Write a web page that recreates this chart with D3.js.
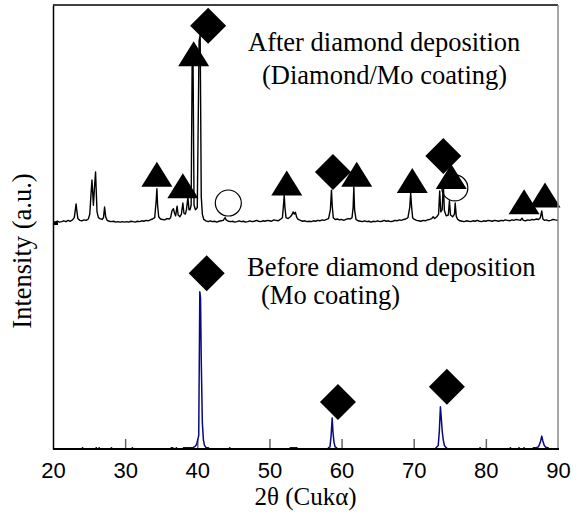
<!DOCTYPE html>
<html>
<head>
<meta charset="utf-8">
<script src="https://cdn.jsdelivr.net/npm/d3@7"></script>
<style>
  body { margin: 0; background: #fff; }
  .serif { font-family: "Times New Roman", "Liberation Serif", serif; }
  .sans { font-family: Arial, "Liberation Sans", sans-serif; }
</style>
</head>
<body>
<div id="chart"></div>
<script>
const width = 586;
const height = 523;

// plot box in pixels
const plotLeft = 53, plotRight = 558, plotTop = 5, plotBottom = 449;

const xTicks = [20, 30, 40, 50, 60, 70, 80, 90];

// top pattern sits on an offset (arbitrary units)
const topOffset = 509;

// after diamond deposition: [2theta, counts above its own baseline]
const afterTrace = [
  [20.0, 3], [20.3, 2], [20.6, 4], [20.9, 2], [21.2, 3], [21.5, 5], [21.8, 3], [22.1, 6], [22.4, 4], [22.7, 7],
  [22.95, 12], [23.1, 30], [23.2, 43], [23.3, 28], [23.45, 10], [23.7, 6], [24.0, 5], [24.3, 7], [24.6, 6], [24.9, 9],
  [25.1, 20], [25.25, 60], [25.4, 97], [25.5, 70], [25.6, 40], [25.75, 80], [25.9, 115], [26.0, 70], [26.1, 25], [26.3, 12],
  [26.5, 10], [26.8, 8], [27.0, 12], [27.15, 36], [27.3, 14], [27.5, 6], [27.8, 4], [28.1, 3], [28.4, 4], [28.7, 2],
  [29.0, 3], [29.3, 2], [29.6, 3], [29.9, 2], [30.2, 3], [30.5, 2], [30.8, 4], [31.1, 3], [31.4, 2], [31.7, 4],
  [32.0, 3], [32.3, 5], [32.6, 4], [32.9, 6], [33.2, 5], [33.5, 7], [33.8, 9], [34.1, 12], [34.3, 50], [34.4, 77],
  [34.5, 40], [34.65, 14], [34.9, 9], [35.2, 8], [35.5, 7], [35.8, 10], [36.1, 9], [36.3, 12], [36.5, 28], [36.7, 32],
  [36.85, 22], [37.0, 16], [37.2, 38], [37.35, 18], [37.6, 14], [37.8, 20], [38.0, 45], [38.15, 22], [38.35, 20], [38.5, 30],
  [38.7, 58], [38.85, 30], [39.0, 30], [39.15, 40], [39.3, 388], [39.4, 392], [39.55, 40], [39.75, 30], [40.0, 35], [40.25, 410],
  [40.4, 423], [40.55, 60], [40.7, 20], [40.9, 8], [41.2, 5], [41.5, 3], [41.8, 5], [42.1, 3], [42.4, 4], [42.7, 2],
  [43.0, 4], [43.3, 5], [43.6, 6], [43.85, 12], [44.0, 7], [44.3, 4], [44.6, 3], [44.9, 4], [45.2, 2], [45.5, 3],
  [45.8, 5], [46.1, 3], [46.4, 4], [46.7, 2], [47.0, 3], [47.3, 5], [47.6, 3], [47.9, 4], [48.2, 6], [48.5, 4],
  [48.8, 3], [49.1, 5], [49.4, 4], [49.7, 6], [50.0, 5], [50.3, 4], [50.6, 7], [50.9, 6], [51.2, 5], [51.5, 8],
  [51.8, 12], [51.95, 40], [52.05, 63], [52.15, 35], [52.3, 12], [52.6, 10], [52.9, 14], [53.1, 18], [53.3, 25], [53.45, 20],
  [53.6, 24], [53.8, 12], [54.0, 8], [54.3, 6], [54.6, 4], [54.9, 5], [55.2, 3], [55.5, 4], [55.8, 3], [56.1, 5],
  [56.4, 4], [56.7, 6], [57.0, 5], [57.3, 7], [57.6, 6], [57.9, 8], [58.2, 10], [58.45, 30], [58.6, 74], [58.7, 40],
  [58.85, 12], [59.1, 8], [59.4, 9], [59.7, 7], [60.0, 8], [60.3, 6], [60.6, 8], [60.9, 10], [61.2, 9], [61.45, 12],
  [61.6, 35], [61.7, 81], [61.8, 30], [62.0, 8], [62.3, 5], [62.6, 4], [62.9, 3], [63.2, 5], [63.5, 3], [63.8, 4],
  [64.1, 2], [64.4, 4], [64.7, 3], [65.0, 5], [65.3, 3], [65.6, 4], [65.9, 6], [66.2, 4], [66.5, 5], [66.8, 3],
  [67.1, 4], [67.4, 6], [67.7, 5], [68.0, 7], [68.3, 6], [68.6, 8], [68.9, 9], [69.2, 12], [69.45, 35], [69.58, 68],
  [69.7, 38], [69.85, 12], [70.1, 8], [70.4, 6], [70.7, 5], [71.0, 4], [71.3, 6], [71.6, 5], [71.9, 7], [72.2, 8],
  [72.5, 10], [72.7, 14], [72.9, 10], [73.2, 14], [73.45, 20], [73.6, 72], [73.75, 25], [73.95, 30], [74.1, 90], [74.25, 28],
  [74.5, 16], [74.8, 18], [74.95, 50], [75.1, 18], [75.4, 14], [75.65, 20], [75.75, 45], [75.9, 15], [76.1, 8], [76.4, 5],
  [76.7, 4], [77.0, 3], [77.3, 5], [77.6, 4], [77.9, 3], [78.2, 5], [78.5, 4], [78.8, 6], [79.1, 4], [79.4, 3],
  [79.7, 5], [80.0, 4], [80.3, 6], [80.6, 5], [80.9, 4], [81.2, 6], [81.5, 5], [81.8, 4], [82.1, 6], [82.4, 5],
  [82.7, 7], [83.0, 6], [83.3, 5], [83.6, 7], [83.9, 6], [84.2, 8], [84.5, 7], [84.8, 6], [85.0, 11], [85.2, 6],
  [85.5, 5], [85.8, 7], [86.1, 6], [86.4, 8], [86.7, 7], [87.0, 9], [87.3, 8], [87.55, 12], [87.75, 27], [87.9, 9],
  [88.1, 6], [88.4, 7], [88.7, 5], [89.0, 6], [89.3, 8], [89.6, 7], [90.0, 6]
];

// before diamond deposition: [2theta, counts]
const beforeTrace = [
  [20.0, 0], [24.0, 0], [24.1, 3], [24.2, 0], [25.9, 0], [26.0, 3], [26.1, 0], [26.3, 0], [26.4, 3], [26.5, 0],
  [28.0, 0], [28.1, 3], [28.2, 0], [30.9, 0], [31.0, 3], [31.1, 0], [36.3, 0], [36.4, 3], [36.6, 3], [36.7, 0],
  [37.0, 0], [37.1, 3], [37.2, 0], [38.0, 0], [38.1, 3], [39.4, 3], [39.7, 6], [39.9, 10], [40.2, 30], [40.35, 354],
  [40.45, 340], [40.55, 200], [40.7, 60], [40.85, 20], [41.0, 8], [41.2, 3], [41.5, 3], [41.7, 0], [44.4, 0], [44.5, 3],
  [44.6, 0], [52.8, 0], [52.9, 3], [53.8, 3], [53.9, 0], [58.1, 0], [58.2, 3], [58.4, 5], [58.55, 30], [58.7, 70],
  [58.8, 40], [58.95, 15], [59.1, 5], [59.3, 3], [59.4, 0], [73.0, 0], [73.1, 3], [73.4, 8], [73.55, 40], [73.7, 95],
  [73.8, 75], [73.95, 40], [74.1, 20], [74.25, 8], [74.5, 3], [74.7, 0], [79.1, 0], [79.2, 3], [79.3, 0], [83.3, 0],
  [83.4, 3], [83.5, 0], [84.5, 0], [84.6, 3], [84.7, 0], [85.2, 0], [85.3, 3], [85.4, 0], [86.5, 0], [86.6, 3],
  [87.0, 3], [87.3, 5], [87.55, 15], [87.75, 29], [87.9, 18], [88.1, 8], [88.3, 4], [88.6, 3], [88.8, 0], [90.0, 0]
];

// peak markers: [2theta, height above the pattern baseline]
const afterTriangles = [[34.4, 110], [38.0, 84], [39.5, 381], [52.4, 90], [62.1, 110], [69.8, 96], [75.2, 105], [85.3, 48], [88.2, 63]];
const afterDiamonds = [[41.5, 444], [58.8, 115], [74.1, 151]];
const afterCircles = [[44.3, 45], [75.7, 79]];
const beforeDiamonds = [[41.3, 396], [59.5, 106], [74.6, 140]];

const svg = d3.select("#chart").append("svg")
  .attr("width", width)
  .attr("height", height)
  .style("display", "block")
  .style("background-color", "white");

const x = d3.scaleLinear().domain([20, 90]).range([plotLeft, plotRight]);
const y = d3.scaleLinear().domain([0, 1000]).range([plotBottom, plotTop]);

// bottom ticks first (grey, pointing in)
const xAxis = d3.axisBottom(x)
  .tickValues(xTicks)
  .tickSizeInner(-10)
  .tickSizeOuter(0)
  .tickPadding(13)
  .tickFormat(d3.format("d"));

const gx = svg.append("g")
  .attr("transform", `translate(0, ${plotBottom})`)
  .call(xAxis);
gx.select(".domain").remove();
gx.selectAll(".tick line").attr("stroke", "#666").attr("stroke-width", 1.5);
gx.selectAll(".tick:first-of-type line, .tick:last-of-type line").remove();
gx.selectAll(".tick text")
  .attr("class", "sans")
  .attr("font-size", 22)
  .attr("fill", "#000");

// traces
const line = d3.line().x(d => x(d[0])).y(d => y(d[1]));

svg.append("path")
  .datum(afterTrace.map(d => [d[0], d[1] + topOffset]))
  .attr("d", line)
  .attr("fill", "none")
  .attr("stroke", "#000")
  .attr("stroke-width", 1.4)
  .attr("stroke-linejoin", "round");

svg.append("path")
  .datum(beforeTrace)
  .attr("d", line)
  .attr("fill", "none")
  .attr("stroke", "#0a0a80")
  .attr("stroke-width", 1.5)
  .attr("stroke-linejoin", "round");

// markers
const triangle = "M0,-12.5L15.5,12.5L-15.5,12.5Z";
const diamond = "M0,-18L18,0L0,18L-18,0Z";

const marks = svg.append("g");
marks.selectAll("path.tri")
  .data(afterTriangles)
  .enter().append("path")
  .attr("class", "tri")
  .attr("d", triangle)
  .attr("transform", d => `translate(${x(d[0])}, ${y(d[1] + topOffset)})`)
  .attr("fill", "#000");

marks.selectAll("path.dia")
  .data(afterDiamonds.map(d => [d[0], d[1] + topOffset]).concat(beforeDiamonds))
  .enter().append("path")
  .attr("class", "dia")
  .attr("d", diamond)
  .attr("transform", d => `translate(${x(d[0])}, ${y(d[1])})`)
  .attr("fill", "#000");

marks.selectAll("circle")
  .data(afterCircles)
  .enter().append("circle")
  .attr("cx", d => x(d[0]))
  .attr("cy", d => y(d[1] + topOffset))
  .attr("r", 13)
  .attr("fill", "none")
  .attr("stroke", "#000")
  .attr("stroke-width", 1.2);

// frame
svg.append("line")
  .attr("x1", plotLeft).attr("x2", plotRight).attr("y1", plotTop).attr("y2", plotTop)
  .attr("stroke", "#000").attr("stroke-width", 1.5);
svg.append("line")
  .attr("x1", plotRight).attr("x2", plotRight).attr("y1", plotTop).attr("y2", plotBottom)
  .attr("stroke", "#888").attr("stroke-width", 1.5);

const yAxis = d3.axisLeft(y)
  .tickValues([topOffset])
  .tickSizeInner(-5)
  .tickSizeOuter(0)
  .tickFormat("");
const gy = svg.append("g")
  .attr("transform", `translate(${plotLeft}, 0)`)
  .call(yAxis);
gy.select(".domain").attr("stroke", "#000").attr("stroke-width", 1.5);
gy.selectAll(".tick line").attr("stroke", "#000").attr("stroke-width", 3);

svg.append("line")
  .attr("x1", plotLeft).attr("x2", plotRight + 1).attr("y1", plotBottom).attr("y2", plotBottom)
  .attr("stroke", "#000").attr("stroke-width", 2);

// labels
const labels = [
  { text: "After diamond deposition", x: 248, y: 51 },
  { text: "(Diamond/Mo coating)", x: 262, y: 84 },
  { text: "Before diamond deposition", x: 247, y: 276 },
  { text: "(Mo coating)", x: 261, y: 304 }
];
svg.selectAll("text.note")
  .data(labels)
  .enter().append("text")
  .attr("class", "note serif")
  .attr("x", d => d.x)
  .attr("y", d => d.y)
  .attr("font-size", 26.5)
  .text(d => d.text);

svg.append("text")
  .attr("class", "serif")
  .attr("x", (plotLeft + plotRight) / 2)
  .attr("y", 505)
  .attr("text-anchor", "middle")
  .attr("font-size", 25)
  .text("2θ (Cukα)");

svg.append("text")
  .attr("class", "serif")
  .attr("transform", `translate(31, ${(plotTop + plotBottom) / 2 + 24}) rotate(-90)`)
  .attr("text-anchor", "middle")
  .attr("font-size", 26.5)
  .text("Intensity (a.u.)");
</script>
</body>
</html>
